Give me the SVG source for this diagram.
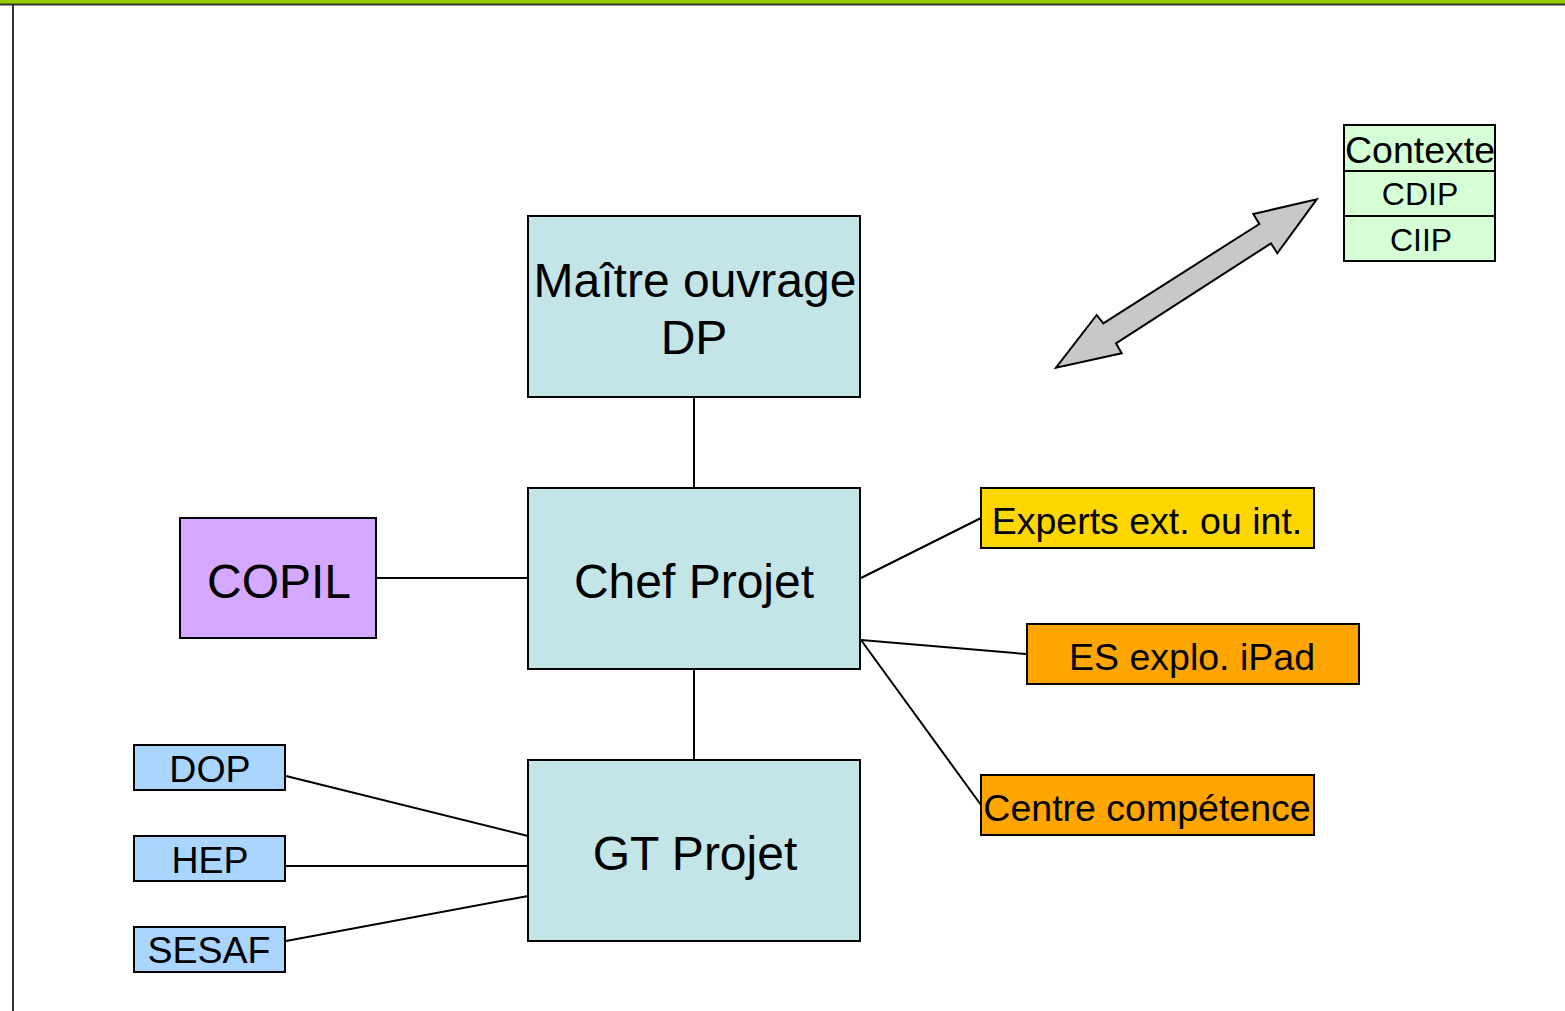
<svg xmlns="http://www.w3.org/2000/svg" width="1565" height="1011" viewBox="0 0 1565 1011">
<style>
.b{stroke:#000;stroke-width:2}
.t{font-family:"Liberation Sans",Arial,sans-serif;fill:#000;text-anchor:middle}
.big{font-size:48px}
.mid{font-size:37.5px}
.sm{font-size:37.5px}
.c{stroke:#000;stroke-width:2;fill:none}
.main{fill:#C4E5E8}
</style>
<rect x="0" y="0" width="1565" height="1011" fill="#fff"/>
<rect x="0" y="0" width="1565" height="4" fill="#99CC00"/>
<line x1="0" y1="4.5" x2="1565" y2="4.5" stroke="#333" stroke-width="2"/>
<line x1="13" y1="4" x2="13" y2="1011" stroke="#333" stroke-width="2"/>
<g id="connectors">
<line class="c" x1="694" y1="397" x2="694" y2="488"/>
<line class="c" x1="376" y1="578" x2="528" y2="578"/>
<line class="c" x1="694" y1="669" x2="694" y2="760"/>
<line class="c" x1="861" y1="578" x2="981" y2="518"/>
<line class="c" x1="861" y1="640" x2="1026" y2="654"/>
<line class="c" x1="861" y1="640" x2="981" y2="805"/>
<line class="c" x1="286" y1="776" x2="528" y2="836"/>
<line class="c" x1="286" y1="866" x2="528" y2="866"/>
<line class="c" x1="286" y1="941" x2="528" y2="896"/>
<polygon points="1316.7,199.3 1277.3,253.3 1271,243.3 1116,343.3 1121.7,353.3 1056,367.7 1096.7,315 1103.3,323.3 1259.3,224 1253.3,214" fill="#C8C8C8" stroke="#000" stroke-width="2"/>
</g>
<g id="maitre">
<rect class="b main" x="528" y="216" width="332" height="181"/>
<text class="t big" x="695" y="297">Maître ouvrage</text>
<text class="t big" x="694" y="354">DP</text>
</g>
<g id="chef">
<rect class="b main" x="528" y="488" width="332" height="181"/>
<text class="t big" x="694" y="598">Chef Projet</text>
</g>
<g id="gt">
<rect class="b main" x="528" y="760" width="332" height="181"/>
<text class="t big" x="695" y="870">GT Projet</text>
</g>
<g id="copil">
<rect class="b" fill="#D5A9FF" x="180" y="518" width="196" height="120"/>
<text class="t big" x="279" y="598">COPIL</text>
</g>
<g id="experts">
<rect class="b" fill="#FFD700" x="981" y="488" width="333" height="60"/>
<text class="t mid" x="1147" y="534">Experts ext. ou int.</text>
</g>
<g id="es">
<rect class="b" fill="#FFA500" x="1027" y="624" width="332" height="60"/>
<text class="t mid" x="1192" y="670">ES explo. iPad</text>
</g>
<g id="centre">
<rect class="b" fill="#FFA500" x="981" y="775" width="333" height="60"/>
<text class="t mid" x="1147" y="821">Centre compétence</text>
</g>
<g id="dop">
<rect class="b" fill="#A9D5FF" x="134" y="745" width="151" height="45"/>
<text class="t sm" x="210" y="782">DOP</text>
</g>
<g id="hep">
<rect class="b" fill="#A9D5FF" x="134" y="836" width="151" height="45"/>
<text class="t sm" x="210" y="873">HEP</text>
</g>
<g id="sesaf">
<rect class="b" fill="#A9D5FF" x="134" y="927" width="151" height="45"/>
<text class="t sm" x="209" y="963">SESAF</text>
</g>
<g id="contexte">
<rect class="b" fill="#D5FFD5" x="1344" y="125" width="151" height="136"/>
<line class="c" x1="1344" y1="171" x2="1495" y2="171"/>
<line class="c" x1="1344" y1="216" x2="1495" y2="216"/>
<text class="t mid" x="1420" y="163">Contexte</text>
<text class="t" font-size="32" x="1420" y="205">CDIP</text>
<text class="t" font-size="32" x="1421" y="251">CIIP</text>
</g>
</svg>
